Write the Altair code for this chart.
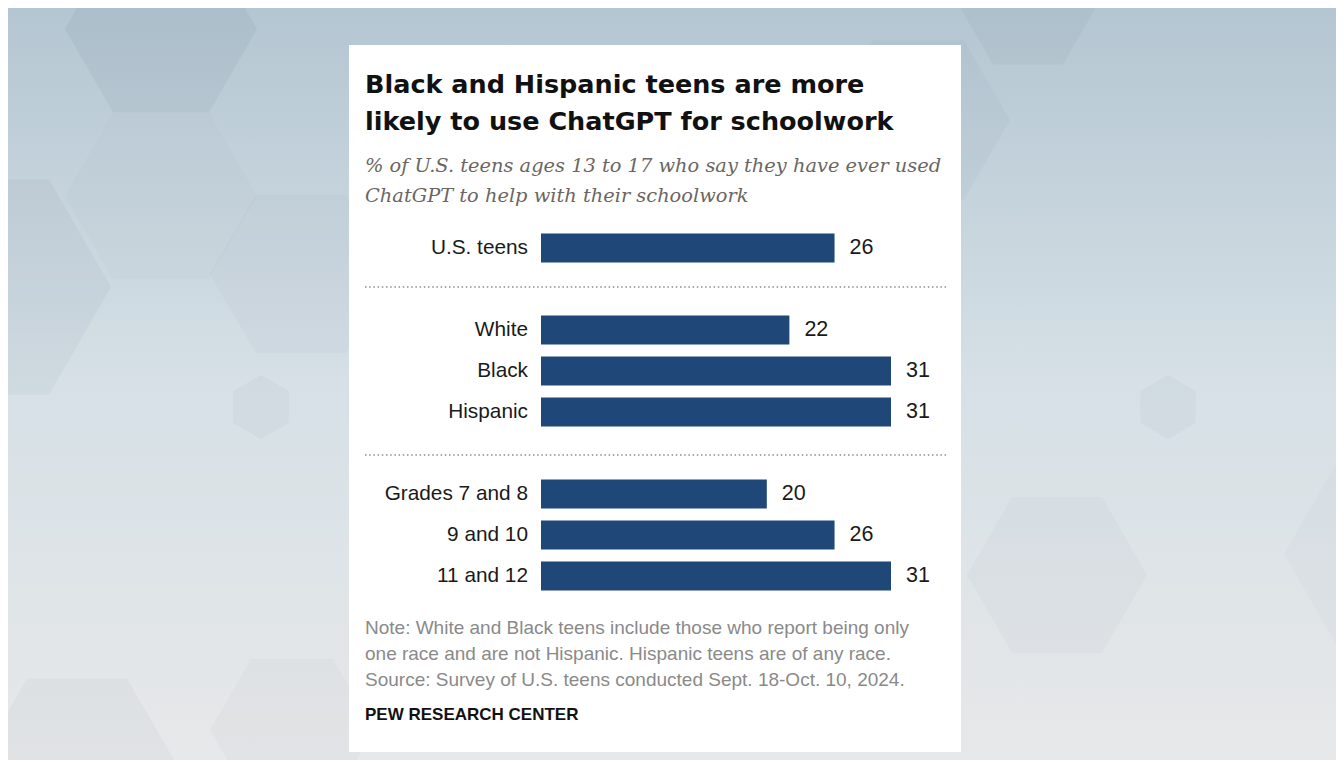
import altair as alt
import pandas as pd

# ---- data ----
categories = ["U.S. teens", "White", "Black", "Hispanic",
              "Grades 7 and 8", "9 and 10", "11 and 12"]
values = [26, 22, 31, 31, 20, 26, 31]
row_order = ["U.S. teens", "sep1", "White", "Black", "Hispanic", "sep2",
             "Grades 7 and 8", "9 and 10", "11 and 12"]

title_lines = ["Black and Hispanic teens are more",
               "likely to use ChatGPT for schoolwork"]
subtitle_lines = ["% of U.S. teens ages 13 to 17 who say they have ever used",
                  "ChatGPT to help with their schoolwork"]
note_lines = ["Note: White and Black teens include those who report being only",
              "one race and are not Hispanic. Hispanic teens are of any race.",
              "Source: Survey of U.S. teens conducted Sept. 18-Oct. 10, 2024."]
credit = "PEW RESEARCH CENTER"

# ---- background decoration (faint hexagons) ----
hex_cx = [153, 153, -21, 293, 253, 1020, 910, 1160, 1049, 1389, 1422, 69, 284]
hex_cy = [21, 188, 279, 266, 399, -4, 112, 399, 567, 546, 100, 757, 722]
hex_r = [96, 96, 124, 91, 32, 70, 92, 32, 90, 113, 92, 100, 82]
hex_kind = ["flat", "flat", "flat", "flat", "pointy", "flat", "flat", "pointy",
            "flat", "flat", "flat", "flat", "flat"]
hex_alpha = [0.05, 0.015, 0.04, 0.025, 0.035, 0.04, 0.03, 0.03, 0.022, 0.02,
             0.03, 0.03, 0.025]

FLAT = "M-1,0L-0.5,-0.866L0.5,-0.866L1,0L0.5,0.866L-0.5,0.866Z"
POINTY = "M0,-1L0.866,-0.5L0.866,0.5L0,1L-0.866,0.5L-0.866,-0.5Z"

bars_df = pd.DataFrame({"row": categories, "value": values})
one = pd.DataFrame({"k": [0]})
hex_df = pd.DataFrame({"cx": hex_cx, "cy": hex_cy,
                       "size": [4 * r * r for r in hex_r],
                       "kind": hex_kind, "alpha": hex_alpha})

W, H = 1328, 752
BAR = "#1f4778"

xs = alt.Scale(domain=[0, 31], range=[533, 883])
ys = alt.Scale(domain=row_order, range=[219.5, 588.5],
               paddingInner=12 / 41, paddingOuter=6 / 41)

bg = alt.Chart(one).mark_rect(
    color=alt.Gradient(
        gradient="linear",
        stops=[alt.GradientStop(color="#b4c6d2", offset=0),
               alt.GradientStop(color="#d6e0e6", offset=0.5),
               alt.GradientStop(color="#e7e8e9", offset=1)],
        x1=0, x2=0, y1=0, y2=1)
).encode(x=alt.value(0), x2=alt.value(W), y=alt.value(0), y2=alt.value(H))

hexes = []
for kind, path in (("flat", FLAT), ("pointy", POINTY)):
    hexes.append(
        alt.Chart(hex_df).transform_filter(alt.datum.kind == kind).mark_point(
            shape=path, filled=True, color="#2c3e50", strokeWidth=0
        ).encode(
            x=alt.X("cx:Q", scale=None, axis=None),
            y=alt.Y("cy:Q", scale=None, axis=None),
            size=alt.Size("size:Q", scale=None, legend=None),
            opacity=alt.Opacity("alpha:Q", scale=None, legend=None),
        )
    )

card = alt.Chart(one).mark_rect(color="white").encode(
    x=alt.value(341), x2=alt.value(953), y=alt.value(37), y2=alt.value(744))


def text_layer(txt, y, size, color, weight="normal", style="normal",
               font="Liberation Sans"):
    return alt.Chart(pd.DataFrame({"t": [txt]})).mark_text(
        align="left", baseline="middle", fontSize=size, color=color,
        fontWeight=weight, fontStyle=style, font=font
    ).encode(text="t:N", x=alt.value(357), y=alt.value(y))


layers = [bg] + hexes + [card]
for i, t in enumerate(title_lines):
    layers.append(text_layer(t, 77 + 37 * i, 25.5, "#111111", weight="bold",
                             font="DejaVu Sans"))
for i, t in enumerate(subtitle_lines):
    layers.append(text_layer(t, 158 + 30 * i, 19.4, "#6b6662", style="italic",
                             font="DejaVu Serif"))
for i, t in enumerate(note_lines):
    layers.append(text_layer(t, 620 + 26 * i, 19, "#8a8a8a"))
layers.append(text_layer(credit, 707, 17, "#111111", weight="bold"))

for sep, off in (("sep1", -2), ("sep2", 2)):
    layers.append(
        alt.Chart(pd.DataFrame({"row": [sep]})).mark_rule(
            color="#8c8c8c", strokeWidth=1.5, strokeDash=[1.5, 2.7],
            yOffset=off
        ).encode(y=alt.Y("row:N", scale=ys, axis=None),
                 x=alt.value(357), x2=alt.value(938))
    )

bars = alt.Chart(bars_df).mark_bar(color=BAR).encode(
    y=alt.Y("row:N", scale=ys, axis=None),
    x=alt.X("value:Q", scale=xs, axis=None),
)

cat_labels = alt.Chart(bars_df).mark_text(
    align="right", baseline="middle", fontSize=20.8, color="#1a1a1a",
    font="Liberation Sans"
).encode(y=alt.Y("row:N", scale=ys, axis=None), x=alt.value(520),
         text="row:N")

val_labels = alt.Chart(bars_df).mark_text(
    align="left", baseline="middle", fontSize=21.5, color="#1a1a1a", dx=15,
    font="Liberation Sans"
).encode(y=alt.Y("row:N", scale=ys, axis=None),
         x=alt.X("value:Q", scale=xs, axis=None), text="value:Q")

layers += [bars, cat_labels, val_labels]

chart = alt.layer(*layers).properties(
    width=W, height=H, autosize=alt.AutoSizeParams(type="none"),
    padding=0, background="#e7e8e9"
).configure_view(strokeWidth=0)

chart.save("out.html", embed_options={"renderer": "svg", "actions": False})
